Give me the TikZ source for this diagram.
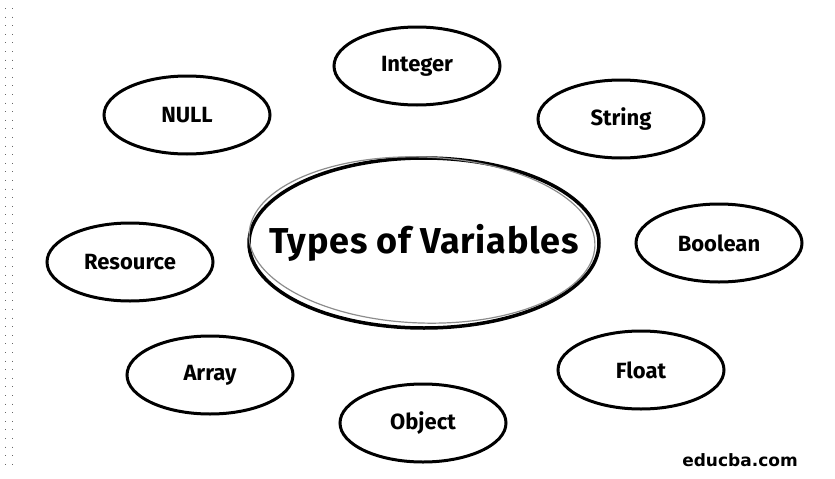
\documentclass[tikz,border=0pt]{standalone}
\usepackage{fontspec}
\setmainfont{Fira Sans}
\newfontfamily\webfont{DejaVu Sans}
\newfontfamily\titlefont[LetterSpace = 2]{Fira Sans}
\usepackage{tikz}
\usetikzlibrary{shapes.geometric}
\usetikzlibrary{positioning}
\tikzstyle{type} = [ellipse, draw, line width = 3, minimum width = 166, minimum height = 78, inner sep = 0, font = \fontsize{22}{24}\selectfont\bfseries]
\tikzstyle{main type} = [ellipse, draw, line width = 3.5, minimum width = 350, minimum height = 170, inner sep = 0]
\tikzstyle{diagram picture} = [x = 1pt, y = -1pt]

\begin{document}
\begin{tikzpicture}[diagram picture,
                        ghost/.style = {ellipse, draw, black!45, line width = 1.2, minimum width = 346, minimum height = 166},
                       ]
        \useasboundingbox (0, 0) rectangle (835, 479);

        % scanned left edge
        \foreach \x in {5, 12}
            \draw [black!60, line width = .6, dash pattern = on .6 off 8] (\x, 8) -- (\x, 470);

        \node [main type] (types) at (424, 243) {};
        \node [ghost, rotate = -2] (types ghost) at (422, 240) {};
        \node [font = \titlefont\fontsize{36}{40}\selectfont\bfseries] (types label) at (types.center) {Types of Variables};

        \foreach \name/\x/\y/\txt in {integer/417/66/Integer,
                                      null/187/115/NULL,
                                      string/621/119/String,
                                      boolean/719/243/Boolean,
                                      resource/130/262/Resource,
                                      array/210/375/Array,
                                      float/641/370/Float,
                                      object/423/423/Object}
        {
            \node [type] (\name) at (\x, \y) {\txt};
        }

        \node [font = \webfont\fontsize{17}{19}\selectfont\bfseries] (site) at (740, 460) {educba.com};
    \end{tikzpicture}
\end{document}
